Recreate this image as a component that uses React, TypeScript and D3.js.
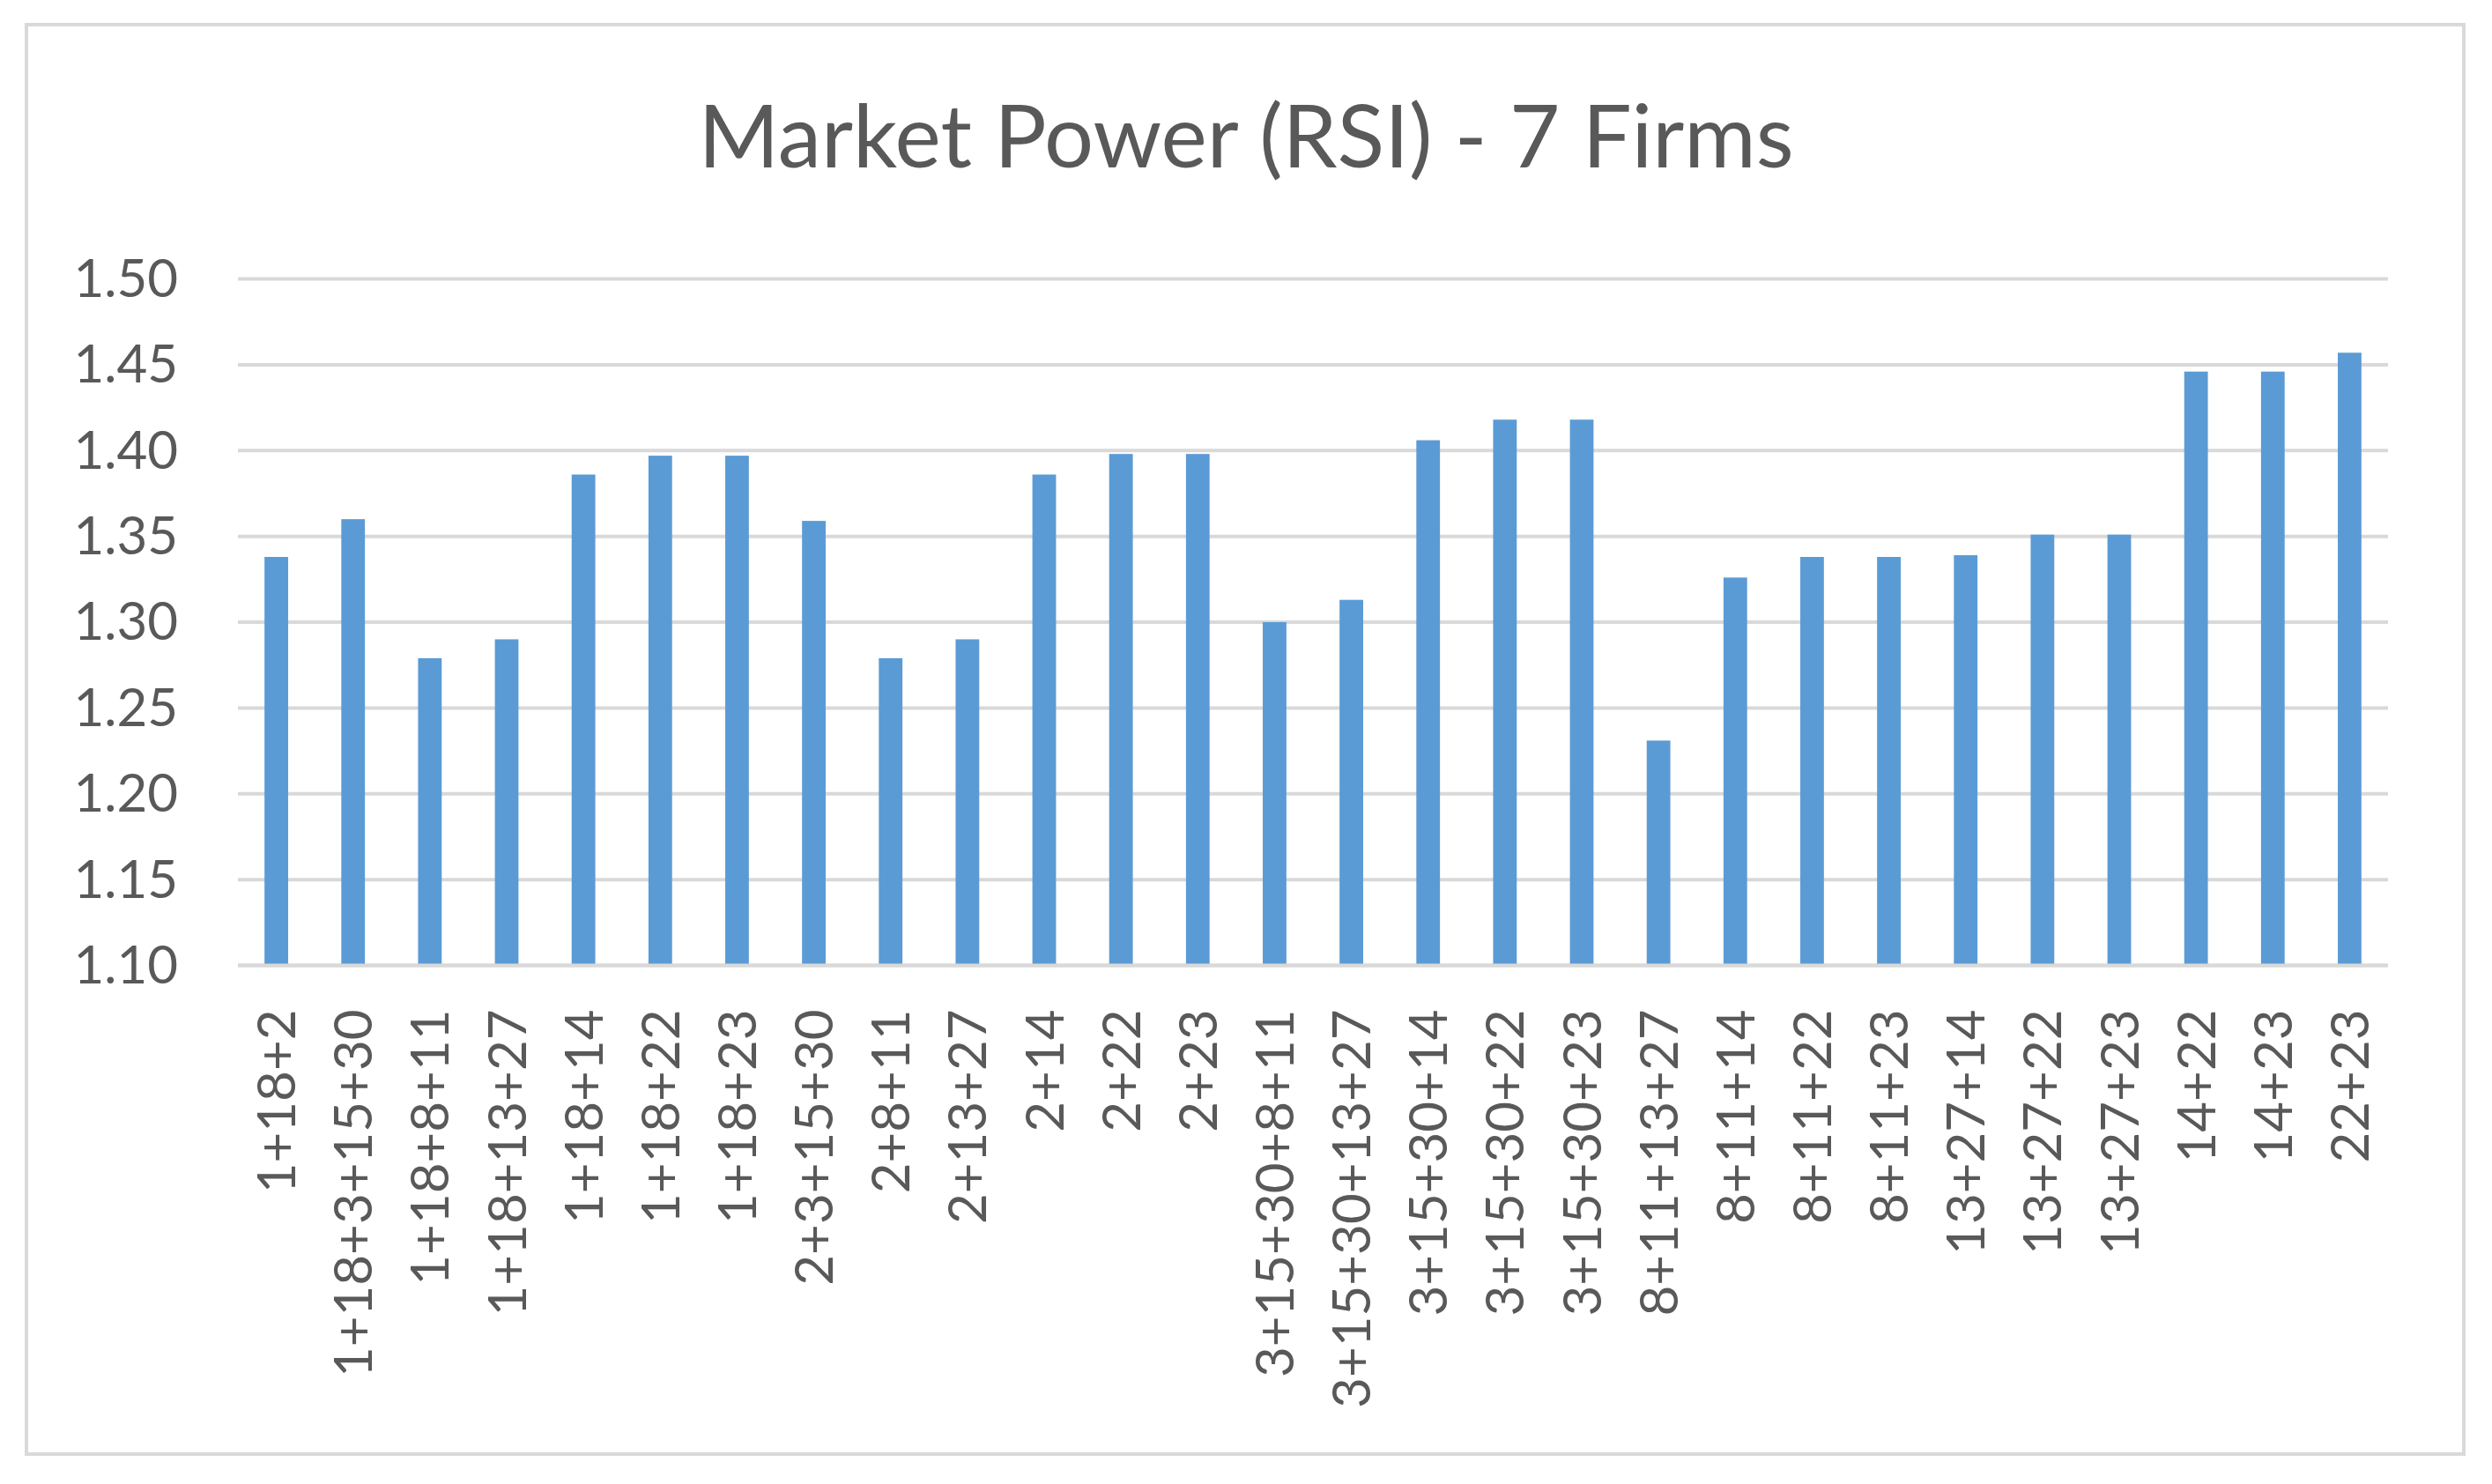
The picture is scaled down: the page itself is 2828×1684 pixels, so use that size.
import React, { useEffect, useRef } from 'react';
import * as d3 from 'd3';

const categories = [
  '1+18+2', '1+18+3+15+30', '1+18+8+11', '1+18+13+27', '1+18+14', '1+18+22', '1+18+23',
  '2+3+15+30', '2+8+11', '2+13+27', '2+14', '2+22', '2+23',
  '3+15+30+8+11', '3+15+30+13+27', '3+15+30+14', '3+15+30+22', '3+15+30+23',
  '8+11+13+27', '8+11+14', '8+11+22', '8+11+23',
  '13+27+14', '13+27+22', '13+27+23', '14+22', '14+23', '22+23',
];

const rsiValues = [
  1.338, 1.360, 1.279, 1.290, 1.386, 1.397, 1.397,
  1.359, 1.279, 1.290, 1.386, 1.398, 1.398,
  1.300, 1.313, 1.406, 1.418, 1.418,
  1.231, 1.326, 1.338, 1.338,
  1.339, 1.351, 1.351, 1.446, 1.446, 1.457,
];

const yTicks = [1.10, 1.15, 1.20, 1.25, 1.30, 1.35, 1.40, 1.45, 1.50];

const chartTitle = 'Market Power (RSI) - 7 Firms';

const App = () => {
  const ref = useRef<SVGSVGElement>(null);

  useEffect(() => {
    const W = 2828;
    const H = 1684;
    const plot = { left: 270, right: 2710, top: 316.5, bottom: 1095.5 };
    const textColor = '#595959';
    const gridColor = '#d9d9d9';
    const font = 'Lato, "Open Sans", sans-serif';

    const svg = d3.select(ref.current);
    svg.selectAll('*').remove();

    svg.append('rect').attr('width', W).attr('height', H).attr('fill', '#fff');

    // chart area border
    svg
      .append('rect')
      .attr('x', 30)
      .attr('y', 28)
      .attr('width', 2766)
      .attr('height', 1622)
      .attr('fill', '#fff')
      .attr('stroke', gridColor)
      .attr('stroke-width', 4);

    // title
    svg
      .append('text')
      .attr('x', 1414)
      .attr('y', 190)
      .attr('text-anchor', 'middle')
      .attr('font-family', font)
      .attr('font-size', 99)
      .attr('fill', textColor)
      .text(chartTitle);

    const x = d3
      .scaleBand()
      .domain(categories)
      .range([plot.left, plot.right])
      .paddingInner(0.6923)
      .paddingOuter(0.34615);

    const y = d3
      .scaleLinear()
      .domain([1.1, 1.5])
      .range([plot.bottom, plot.top]);

    // gridlines
    svg
      .append('g')
      .selectAll('line')
      .data(yTicks)
      .enter()
      .append('line')
      .attr('x1', plot.left)
      .attr('x2', plot.right)
      .attr('y1', (d) => y(d))
      .attr('y2', (d) => y(d))
      .attr('stroke', gridColor)
      .attr('stroke-width', 4);

    // y tick labels
    svg
      .append('g')
      .selectAll('text')
      .data(yTicks)
      .enter()
      .append('text')
      .attr('x', plot.left - 68)
      .attr('y', (d) => y(d))
      .attr('dy', '0.34em')
      .attr('text-anchor', 'end')
      .attr('font-family', font)
      .attr('font-size', 60)
      .attr('fill', textColor)
      .text((d) => d3.format('.2f')(d));

    // bars
    svg
      .append('g')
      .selectAll('rect')
      .data(rsiValues)
      .enter()
      .append('rect')
      .attr('x', (d, i) => x(categories[i]) as number)
      .attr('y', (d) => y(d))
      .attr('width', x.bandwidth())
      .attr('height', (d) => y(1.1) - y(d))
      .attr('fill', '#5b9bd5');

    // category axis line
    svg
      .append('line')
      .attr('x1', plot.left)
      .attr('x2', plot.right)
      .attr('y1', plot.bottom)
      .attr('y2', plot.bottom)
      .attr('stroke', gridColor)
      .attr('stroke-width', 4);

    // rotated category labels
    svg
      .append('g')
      .selectAll('text')
      .data(categories)
      .enter()
      .append('text')
      .attr('transform', (d) => `translate(${(x(d) as number) + x.bandwidth() / 2},${plot.bottom + 50}) rotate(-90)`)
      .attr('dy', '0.36em')
      .attr('text-anchor', 'end')
      .attr('font-family', font)
      .attr('font-size', 60)
      .attr('fill', textColor)
      .text((d) => d);
  }, []);

  return (
    <svg
      ref={ref}
      width={2828}
      height={1684}
      style={{ position: 'absolute', left: 0, top: 0, display: 'block' }}
    />
  );
};

export default App;
